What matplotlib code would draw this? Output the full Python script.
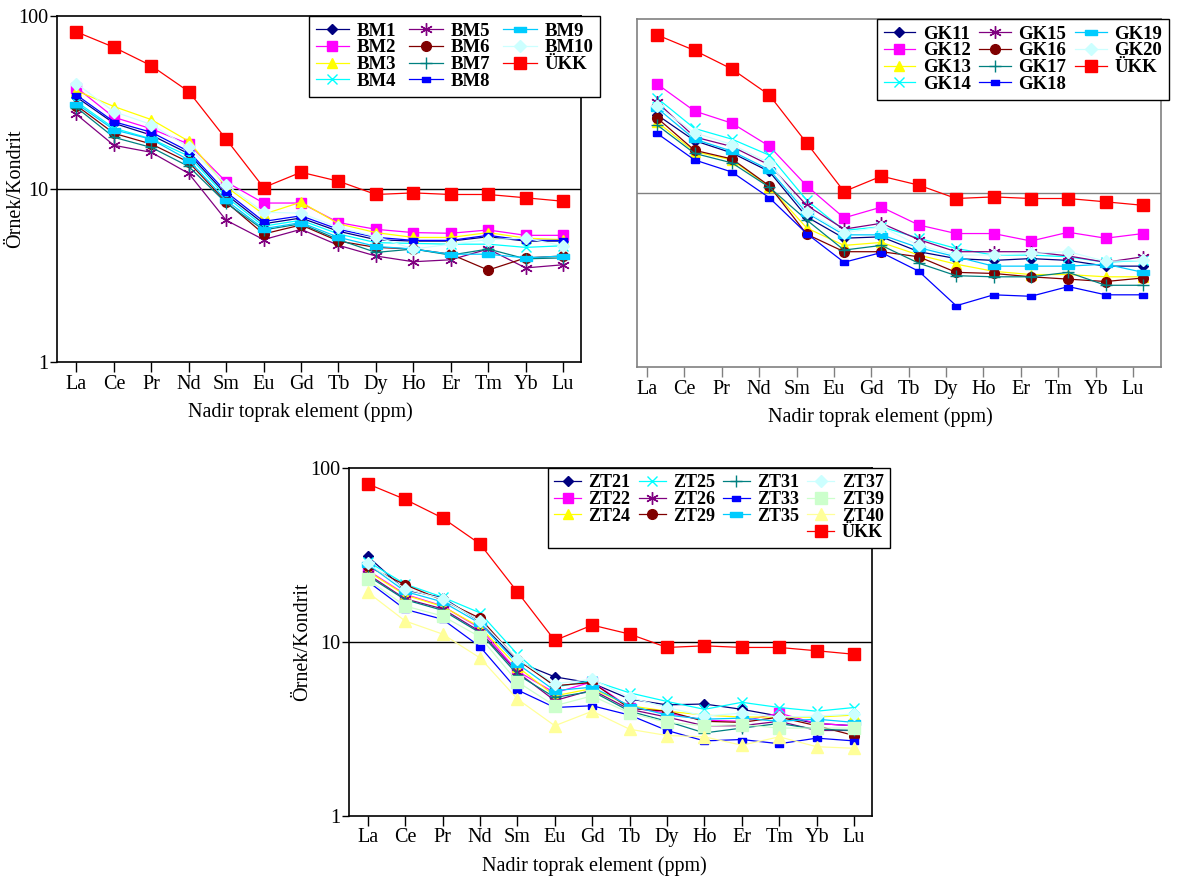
import numpy as np
import matplotlib
matplotlib.use('Agg')
import matplotlib.pyplot as plt
from matplotlib.lines import Line2D

plt.rcParams['font.family'] = ['Liberation Serif', 'DejaVu Serif']

# element order on the x axis
elements = ['La', 'Ce', 'Pr', 'Nd', 'Sm', 'Eu', 'Gd', 'Tb', 'Dy', 'Ho', 'Er', 'Tm', 'Yb', 'Lu']

# upper continental crust (chondrite normalised)
ukk = [81, 66, 51.6, 36.6, 19.4, 10.2, 12.5, 11.1, 9.3, 9.5, 9.3, 9.3, 8.9, 8.5]

# panel 1 samples
bm_names = ['BM1', 'BM2', 'BM3', 'BM4', 'BM5', 'BM6', 'BM7', 'BM8', 'BM9', 'BM10']
bm1 = [34, 24, 20.5, 16, 9.3, 6.3, 6.8, 5.7, 5.1, 5.0, 5.0, 5.3, 5.0, 5.0]
bm2 = [38.6, 26, 22.3, 18.2, 11.0, 8.3, 8.3, 6.4, 5.85, 5.6, 5.55, 5.8, 5.4, 5.4]
bm3 = [37, 30, 25.2, 18.9, 10.3, 7.15, 8.4, 6.3, 5.6, 5.25, 5.25, 5.6, 5.2, 5.1]
bm4 = [32, 22.5, 19.5, 15.5, 9.0, 6.1, 6.6, 5.5, 4.9, 4.85, 4.8, 4.8, 4.6, 4.7]
bm5 = [27, 17.9, 16.3, 12.3, 6.6, 5.1, 5.85, 4.73, 4.1, 3.8, 3.9, 4.5, 3.5, 3.65]
bm6 = [30.4, 21, 18.2, 14.3, 8.4, 5.5, 6.2, 5.0, 4.6, 4.5, 4.2, 3.4, 4.0, 4.1]
bm7 = [29.6, 19.9, 17.4, 13.5, 8.3, 5.8, 6.3, 5.1, 4.3, 4.5, 4.15, 4.5, 3.95, 4.0]
bm8 = [35, 24.5, 21.3, 16.5, 9.6, 6.5, 7.0, 5.85, 5.26, 5.05, 5.05, 5.4, 5.05, 5.05]
bm9 = [31.2, 22, 19.4, 14.7, 8.6, 5.9, 6.4, 5.26, 4.66, 4.5, 4.2, 4.2, 4.0, 4.1]
bm10 = [40.7, 28, 23.6, 17.4, 10.6, 7.35, 7.25, 6.0, 5.3, 4.5, 4.8, 5.1, 5.2, 4.7]

# panel 2 samples
gk_names = ['GK11', 'GK12', 'GK13', 'GK14', 'GK15', 'GK16', 'GK17', 'GK18', 'GK19', 'GK20']
gk11 = [28.1, 20, 17, 13.3, 7.3, 5.5, 5.6, 4.6, 4.2, 4.1, 4.2, 4.1, 3.8, 3.8]
gk12 = [42.3, 29.6, 25.2, 18.6, 11.0, 7.2, 8.3, 6.55, 5.85, 5.85, 5.3, 5.95, 5.5, 5.85]
gk13 = [25.6, 17.3, 15.5, 10.9, 6.3, 5.0, 5.2, 4.4, 3.9, 3.55, 3.4, 3.4, 3.3, 3.3]
gk14 = [35.1, 23.5, 20.4, 16.5, 9.1, 6.1, 6.4, 5.5, 4.8, 4.4, 4.4, 4.3, 4.0, 4.1]
gk15 = [33.3, 21, 18.5, 14.5, 8.5, 6.2, 6.7, 5.4, 4.6, 4.6, 4.6, 4.35, 4.0, 4.3]
gk16 = [27, 17.6, 15.7, 11.0, 5.8, 4.6, 4.6, 4.3, 3.5, 3.45, 3.3, 3.2, 3.1, 3.25]
gk17 = [24.6, 16.9, 14.9, 10.8, 7.0, 4.7, 5.0, 3.95, 3.35, 3.3, 3.3, 3.5, 2.95, 2.95]
gk18 = [22, 15.5, 13.2, 9.4, 5.85, 4.0, 4.55, 3.55, 2.25, 2.6, 2.55, 2.9, 2.6, 2.6]
gk19 = [30.8, 20.4, 17.4, 13.6, 7.7, 5.75, 5.75, 4.85, 4.3, 3.8, 3.8, 3.8, 3.9, 3.5]
gk20 = [31.6, 22.2, 19, 14.9, 7.8, 5.9, 6.4, 5.0, 4.4, 4.4, 4.5, 4.6, 4.05, 4.1]

# panel 3 samples
zt_names = ['ZT21', 'ZT22', 'ZT24', 'ZT25', 'ZT26', 'ZT29', 'ZT31', 'ZT33', 'ZT35', 'ZT37', 'ZT39', 'ZT40']
zt21 = [31, 19.9, 18, 13.1, 7.7, 6.3, 5.8, 4.7, 4.35, 4.4, 4.1, 3.75, 3.4, 3.3]
zt22 = [25.8, 18.8, 16.1, 12, 6.8, 5.1, 5.9, 4.2, 3.9, 3.55, 3.5, 3.9, 3.4, 3.3]
zt24 = [25.5, 18.6, 16, 12.2, 7.2, 4.9, 5.4, 4.3, 4.0, 3.8, 3.7, 3.7, 3.7, 3.8]
zt25 = [29, 21.5, 18.1, 14.7, 8.5, 5.5, 6.0, 5.1, 4.55, 4.1, 4.5, 4.2, 4.0, 4.2]
zt26 = [24.5, 17.7, 15.5, 11.5, 6.7, 4.6, 5.3, 4.1, 3.7, 3.3, 3.3, 3.5, 3.1, 3.1]
zt29 = [27.2, 21.3, 17.4, 13.7, 7.9, 5.6, 5.85, 4.15, 4.0, 3.5, 3.45, 3.7, 3.3, 2.9]
zt31 = [24, 17.5, 15.2, 11.3, 6.5, 4.8, 5.2, 4.0, 3.5, 3.0, 3.2, 3.4, 3.15, 3.1]
zt33 = [22.3, 15.4, 13.5, 9.4, 5.3, 4.2, 4.3, 3.8, 3.1, 2.7, 2.75, 2.6, 2.8, 2.7]
zt35 = [28, 19.5, 17, 12.8, 7.5, 5.25, 5.5, 4.3, 3.8, 3.6, 3.65, 3.5, 3.6, 3.45]
zt37 = [28.3, 20.2, 17.7, 13.2, 8.0, 5.75, 6.1, 4.8, 4.2, 3.75, 3.9, 3.7, 3.75, 3.85]
zt39 = [22.9, 16.1, 14.1, 10.7, 5.9, 4.3, 4.9, 3.9, 3.45, 3.3, 3.35, 3.2, 3.2, 3.2]
zt40 = [19.3, 13.2, 11.1, 8.1, 4.7, 3.3, 4.0, 3.15, 2.9, 2.85, 2.55, 2.85, 2.5, 2.45]

# marker shapes
small_rect = [(-1, -0.6), (1, -0.6), (1, 0.6), (-1, 0.6), (-1, -0.6)]
wide_rect = [(-1, -0.4), (1, -0.4), (1, 0.4), (-1, 0.4), (-1, -0.4)]
star = (6, 2, 0)

# (color, marker, size)
navy = ('#000080', 'D', 5)
magenta = ('#FF00FF', 's', 7)
yellow = ('#FFFF00', '^', 7)
cyan = ('#00FFFF', 'x', 7)
purple = ('#800080', star, 9)
maroon = ('#800000', 'o', 7)
teal = ('#008080', '+', 9)
blue = ('#0000FF', small_rect, 6)
sky = ('#00CCFF', wide_rect, 9)
pale = ('#CCFFFF', 'D', 6)
pale_green = ('#CCFFCC', 's', 8)
pale_yellow = ('#FFFF99', '^', 8)
red = ('#FF0000', 's', 9)

bm_styles = [navy, magenta, yellow, cyan, purple, maroon, teal, blue, sky, pale]
zt_styles = [navy, magenta, yellow, cyan, purple, maroon, teal, blue, sky, pale, pale_green, pale_yellow]

fig = plt.figure(figsize=(11.8, 8.77), dpi=100)


def draw_panel(rect, series, names, styles, shift, xlim, frame, ylabel_x, legend_x, label_x, ncol,
               leg_size=13.5, hlen=1.8, cspace=0.7, blanks=()):
    ax = fig.add_axes(rect)
    x = np.arange(len(elements)) + shift
    for vals, name, st in zip(series, names, styles):
        c, m, ms = st
        ax.plot(x, vals, color=c, lw=0.9, marker=m, ms=ms, mfc=c, mec=c, mew=1.0, label=name)
    c, m, ms = red
    ax.plot(x, ukk, color=c, lw=0.9, marker=m, ms=ms, mfc=c, mec=c, label='ÜKK')
    ax.axhline(10, color=frame, lw=1.0, zorder=0)

    ax.set_yscale('log')
    ax.set_ylim(1, 100)
    ax.set_xlim(*xlim)
    ax.set_xticks(np.arange(len(elements)))
    ax.set_xticklabels(elements)
    ax.yaxis.set_minor_locator(matplotlib.ticker.NullLocator())
    ax.xaxis.set_minor_locator(matplotlib.ticker.NullLocator())
    ax.tick_params(axis='x', direction='out', length=7, width=1, colors=frame, labelcolor='black',
                   labelsize=14.5, pad=2)
    if ylabel_x is not None:
        ax.set_yticks([1, 10, 100])
        ax.set_yticklabels(['1', '10', '100'])
        ax.tick_params(axis='y', direction='out', length=5, width=1, labelsize=14.5, pad=1)
        ax.set_ylabel('Örnek/Kondrit', fontsize=14.5)
        ax.yaxis.set_label_coords(ylabel_x, 0.5)
    else:
        ax.set_yticks([])
    for s in ax.spines.values():
        s.set_color(frame)
        s.set_linewidth(1.2)
    ax.set_xlabel('Nadir toprak element (ppm)', fontsize=14.5)
    ax.xaxis.set_label_coords(label_x, -0.115)

    handles, labels = ax.get_legend_handles_labels()
    for pos in blanks:
        handles.insert(pos, Line2D([], [], linestyle='none', marker='none'))
        labels.insert(pos, '')
    leg = ax.legend(handles, labels, ncol=ncol, loc='upper left', bbox_to_anchor=(legend_x, 1.0),
                    borderaxespad=0, numpoints=1, fancybox=False, framealpha=1, edgecolor='black',
                    prop={'size': leg_size, 'weight': 'bold'}, handlelength=hlen, handletextpad=0.4,
                    columnspacing=cspace, labelspacing=-0.02, borderpad=0.35)
    leg.get_frame().set_linewidth(1.0)
    return ax


draw_panel([0.0483, 0.5872, 0.4441, 0.3945],
           [bm1, bm2, bm3, bm4, bm5, bm6, bm7, bm8, bm9, bm10], bm_names, bm_styles,
           0, (-0.52, 13.48), 'black', -0.061, 0.481, 0.464, 3)

draw_panel([0.5398, 0.5815, 0.4441, 0.3968],
           [gk11, gk12, gk13, gk14, gk15, gk16, gk17, gk18, gk19, gk20], gk_names, bm_styles,
           0.27, (-0.27, 13.75), '#808080', None, 0.458, 0.464, 3, cspace=0.45, hlen=1.7)

draw_panel([0.2958, 0.0696, 0.4432, 0.3968],
           [zt21, zt22, zt24, zt25, zt26, zt29, zt31, zt33, zt35, zt37, zt39, zt40], zt_names, zt_styles,
           0, (-0.5, 13.48), 'black', -0.071, 0.380, 0.47, 4,
           leg_size=13, hlen=1.5, cspace=0.45, blanks=(3, 7, 11))

fig.savefig('out.png', dpi=100)
